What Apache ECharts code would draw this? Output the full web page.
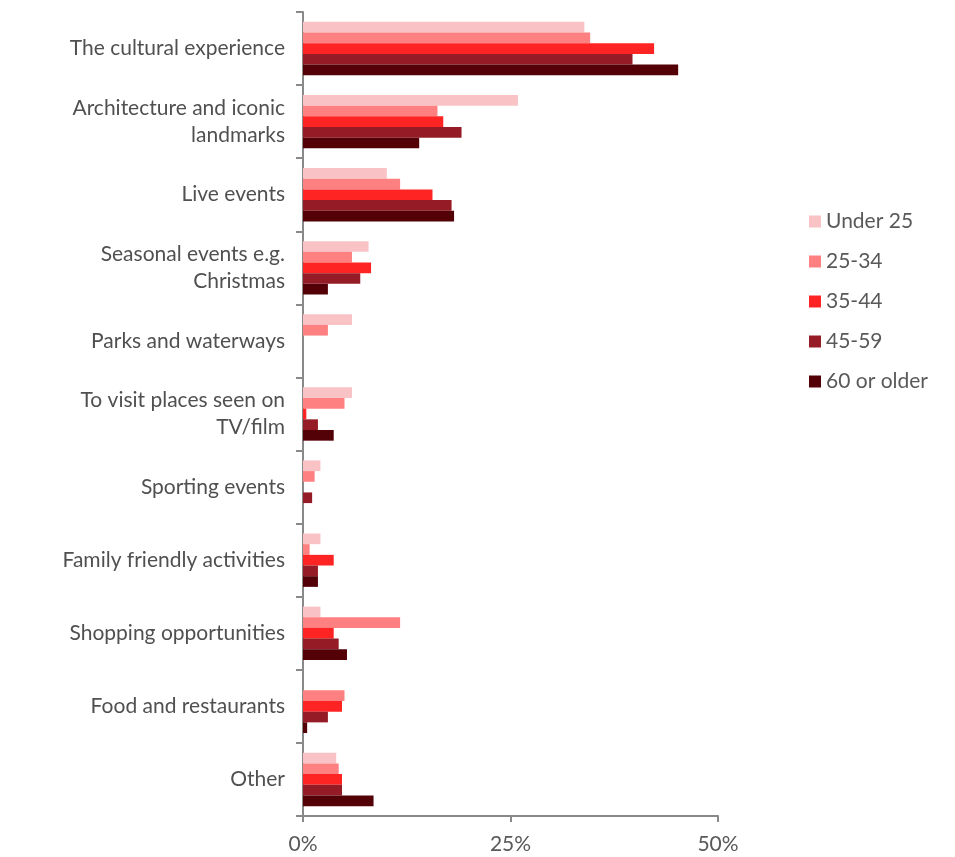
<!DOCTYPE html>
<html><head><meta charset="utf-8">
<script src="https://cdn.jsdelivr.net/npm/echarts@6/dist/echarts.min.js"></script>
<style>html,body{margin:0;padding:0;background:#fff}#c{width:955px;height:857px}</style>
</head><body><div id="c"></div>
<script>
const categories = ["The cultural experience","Architecture and iconic\nlandmarks","Live events","Seasonal events e.g.\nChristmas","Parks and waterways","To visit places seen on\nTV/film","Sporting events","Family friendly activities","Shopping opportunities","Food and restaurants","Other"];
const seriesNames = ["Under 25","25-34","35-44","45-59","60 or older"];
const under25 = [33.9,25.9,10.1,7.9,5.9,5.9,2.1,2.1,2.1,0,4.0];
const age2534 = [34.6,16.2,11.7,5.9,3.0,5.0,1.4,0.8,11.7,5.0,4.3];
const age3544 = [42.3,16.9,15.6,8.2,0,0.4,0,3.7,3.7,4.7,4.7];
const age4559 = [39.7,19.1,17.9,6.9,0,1.8,1.1,1.8,4.3,3.0,4.7];
const age60 = [45.2,14.0,18.2,3.0,0,3.7,0,1.8,5.3,0.5,8.5];
const xTicks = [0,25,50];
const colors = ["#F9C3C6","#FF8080","#FF2424","#951C26","#530007"];
const values = [under25,age2534,age3544,age4559,age60];
const font = "Lato, 'Liberation Sans', sans-serif";
const chart = echarts.init(document.getElementById('c'));
chart.setOption({
  animation:false,
  grid:{left:303,right:237,top:12,bottom:41,containLabel:false},
  legend:{orient:'vertical',left:804,top:206,itemWidth:12,itemHeight:12,itemGap:19,icon:'rect',
    textStyle:{fontFamily:font,fontSize:21,color:'#595959'},data:seriesNames},
  xAxis:{type:'value',min:xTicks[0],max:xTicks[xTicks.length-1],interval:25,
    axisLine:{show:true,lineStyle:{color:'#898989',width:2}},
    axisTick:{show:true,length:6,lineStyle:{color:'#898989',width:2}},
    splitLine:{show:false},
    axisLabel:{formatter:v=>v+'%',fontFamily:font,fontSize:21,color:'#595959',margin:18}},
  yAxis:{type:'category',data:categories,inverse:true,
    axisLine:{show:true,lineStyle:{color:'#898989',width:2}},
    axisTick:{show:true,length:7,lineStyle:{color:'#898989',width:2}},
    axisLabel:{fontFamily:font,fontSize:21,color:'#505050',margin:18,lineHeight:27,align:'right'}},
  series:seriesNames.map((n,i)=>({name:n,type:'bar',data:values[i],barGap:'0%',barCategoryGap:'27%',
    itemStyle:{color:colors[i]}}))
});
</script></body></html>
